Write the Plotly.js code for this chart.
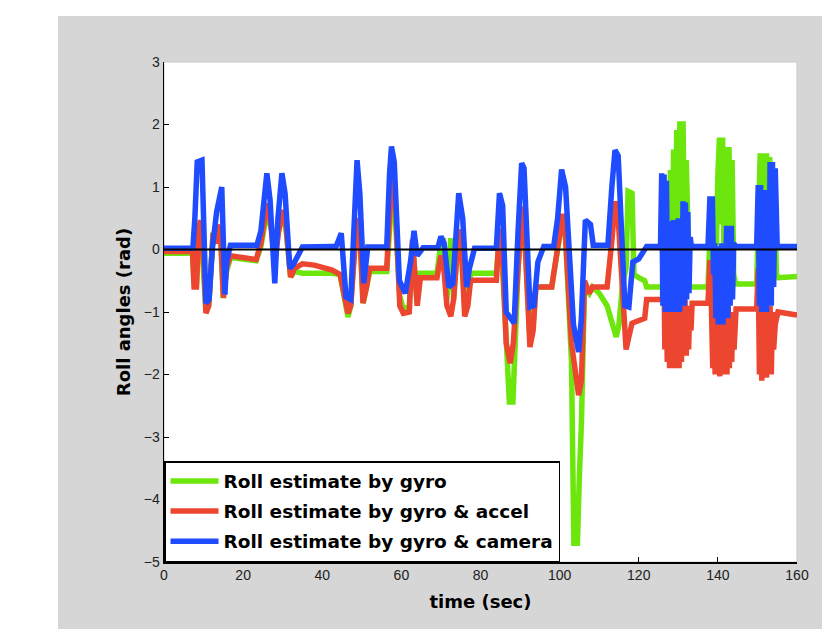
<!DOCTYPE html>
<html>
<head>
<meta charset="utf-8">
<script src="https://cdn.plot.ly/plotly-3.0.1.min.js"></script>
<style>
  html, body { margin: 0; padding: 0; background: #ffffff; width: 822px; height: 629px; overflow: hidden; }
  #chart { position: absolute; left: 58px; top: 16px; width: 764px; height: 613px; }
</style>
</head>
<body>
<div id="chart"></div>
<script>
// ---- data ----
const seriesNames = ["Roll estimate by gyro", "Roll estimate by gyro & accel", "Roll estimate by gyro & camera"];

const tGyro = [0,7.2,7.6,8.2,8.8,9.2,10.6,11.3,12.4,14.2,15,15.8,16.8,23.3,24.5,26,26.8,28,29,30,30.8,32,33,35,42.5,44.5,46.5,47.2,48.3,48.8,49.5,50.3,51.2,52,56.3,57.2,57.6,58.3,59.6,60.5,62,62.8,63.4,64,64.8,69,70,70.6,71.5,72.5,73.2,74.5,75.2,76,76.8,77.5,84,84.8,85.5,86.5,87.3,88.2,88.8,89.5,90.5,91.2,92.5,93.3,94,98,99.5,100.8,101.5,103,103.6,104.5,105,105.5,106.3,107.5,108.3,110,112,113.5,114.3,115,116,116.8,117.3,118.3,118.8,120,121.5,122,126,
  126.4,126.8,127.2,127.6,128.0,128.4,128.8,129.2,129.6,130.0,130.4,130.8,131.2,131.6,132.0,132.4,132.8,133.5,137.5,
  138.0,138.5,139.0,139.5,140.0,140.4,140.8,141.2,141.6,142.0,142.4,142.8,143.2,143.6,144.0,144.5,149.8,
  150.3,150.7,151.1,151.5,151.9,152.3,152.7,153.1,153.5,153.9,154.3,154.8,155.3,160];
const gyro = [-0.06,-0.06,-0.55,-0.6,0.3,0.45,-0.98,-0.9,0.25,0.35,-0.78,-0.35,-0.13,-0.18,0.05,0.6,0.4,0.2,0.3,0.55,0.35,-0.44,-0.35,-0.38,-0.38,-0.4,-1.08,-0.9,0.2,0.45,0.3,-0.86,-0.6,-0.35,-0.35,0.6,0.85,0.7,-0.75,-0.95,-0.9,0.1,-0.5,-0.85,-0.38,-0.38,0.1,0.18,-0.8,0.18,-0.8,0.3,0,-0.9,-0.7,-0.38,-0.38,0.2,-0.2,-1.5,-2.44,-2.44,-1.2,-0.3,0.6,0.2,-1.45,-1.2,-0.6,-0.6,0,0.5,0.2,-1.8,-4.7,-4.7,-3.6,-2.8,-0.6,-0.7,-0.6,-0.7,-0.9,-1.2,-1.4,-1.2,-0.5,-0.3,0.93,0.9,-0.4,-0.45,-0.5,-0.6,-0.6,
  0.5,-0.5,1.0,-0.6,1.27,-0.5,1.6,-0.4,1.91,0.2,2.05,0.6,2.05,-0.2,1.43,0.5,-0.6,-0.6,-0.6,
  0.2,-0.5,0.5,-0.3,1.2,1.79,0.4,1.79,-0.4,1.64,0.1,1.64,0.3,1.43,-0.4,-0.55,-0.55,
  0.3,1.54,-0.5,1.54,0.2,1.54,0.4,1.48,-0.3,1.2,0.95,-0.4,-0.45,-0.43];

const tAccel = [0,7.2,7.6,8.2,8.8,9.2,9.8,10.6,11.3,12.4,13.3,14.2,15,15.8,16.8,23.3,24.5,26,26.8,28,29,30,30.8,32,33,35,38,42.5,44.5,46.5,47.2,48.3,48.8,49.5,50.3,51.2,52,56.3,57.2,57.6,58.3,59.6,60.5,62,62.8,63.4,64,64.8,69,70,70.6,71.5,72.5,73.2,74.5,75.2,76,76.8,77.5,84,84.8,85.5,86.5,87.5,88.3,89.5,90.5,91.2,92.5,93.3,94,98,99.5,100.8,101.5,103,104.8,105.5,106.3,107.5,108.3,112,113.3,114,114.8,116,116.8,117.5,118.3,121.5,122,126,
  126.3,126.6,126.9,127.2,127.5,127.8,128.1,128.4,128.7,129.0,129.3,129.6,129.9,130.2,130.5,130.8,131.1,131.4,131.7,132.0,132.3,132.6,132.9,133.2,133.5,137.5,
  138.0,138.4,138.7,139.0,139.3,139.6,139.9,140.2,140.5,140.8,141.1,141.4,141.7,142.0,142.3,142.6,142.9,143.2,143.5,143.8,144.1,144.6,149.8,
  150.2,150.5,150.8,151.1,151.4,151.7,152.0,152.3,152.6,152.9,153.2,153.5,153.8,154.1,154.5,155.2,160];
const accel = [-0.03,-0.03,-0.6,-0.6,0.3,0.47,0.2,-1.02,-0.9,0.26,0.1,0.4,-0.77,-0.3,-0.1,-0.16,0.1,0.74,0.5,-0.2,0.3,0.63,0.4,-0.44,-0.3,-0.23,-0.25,-0.33,-0.4,-1.02,-0.9,0.2,0.5,0.3,-0.86,-0.6,-0.3,-0.3,1,1.27,1,-0.9,-1.02,-1,0.16,-0.5,-0.9,-0.45,-0.45,-0.1,-0.2,-0.9,-1.07,-0.8,0.32,0,-1.07,-0.9,-0.49,-0.49,0.33,0,-1.5,-1.82,-1.5,-0.3,0.69,0.2,-1.56,-1.3,-0.6,-0.6,0,0.57,0.2,-1.5,-2.33,-2.1,-0.5,-0.7,-0.6,-0.6,0.2,0.77,0.5,-1,-1.6,-1.4,-1.18,-1.1,-0.8,-0.8,
  0.0,-1.6,-0.3,-1.8,-0.4,-1.9,-0.5,-1.75,-0.6,-1.9,-0.5,-1.7,-0.7,-1.9,-0.6,-1.8,-0.7,-1.6,-0.8,-1.7,-0.9,-1.6,-0.9,-1.3,-0.86,-0.86,
  -0.17,-1.0,-1.9,-0.8,-2.0,-0.9,-1.9,-1.0,-2.03,-0.8,-2.0,-0.9,-1.9,-1.0,-2.0,-0.9,-1.9,-1.1,-1.8,-1.0,-1.6,-0.95,-0.95,
  -0.3,-2.0,-1.0,-2.1,-0.9,-2.0,-1.0,-2.05,-1.1,-1.9,-0.9,-2.0,-1.0,-1.6,-1.2,-1.0,-1.05];

const tCam = [0,7.3,7.8,8.4,9.6,10.1,10.6,11.4,12.2,13.3,14.6,15.4,15.8,16.8,23.5,24.5,26,26.8,28,28.8,29.8,30.6,31.8,32.6,34,35,42.5,43.5,44.8,46,47.2,48.2,48.8,49.5,50.5,51.5,56.3,57,57.5,58.2,59.5,61,62.3,63.2,64,65.5,69.2,70,70.8,72,73,74.5,75.5,76.5,77.2,78.5,84,84.8,85.6,86.5,88.5,89.5,90.4,91,92.5,93.5,94.5,96,98.5,99.5,100.5,101.5,103.5,104.8,105.5,106.5,107.8,108.5,112.2,113.2,114,114.8,115.8,116.5,117.5,118.5,120,122,125.5,
  125.8,126.1,126.4,126.7,127.0,127.3,127.6,127.9,128.2,128.5,128.8,129.1,129.4,129.7,130.0,130.3,130.6,130.9,131.2,131.5,131.8,132.1,132.4,132.7,133.0,133.3,137.5,
  138.0,138.3,138.6,138.9,139.2,139.5,139.8,140.1,140.4,140.7,141.0,141.3,141.6,141.9,142.2,142.5,142.8,143.1,143.4,143.7,144.0,144.5,149.8,
  150.2,150.5,150.8,151.1,151.4,151.7,152.0,152.3,152.6,152.9,153.2,153.5,153.8,154.1,154.5,155.0,160];
const camera = [0.02,0.02,0.5,1.4,1.43,0.4,-0.86,-0.8,0,0.6,1,-0.72,-0.2,0.07,0.07,0.3,1.22,0.8,-0.54,0.5,1.22,0.9,-0.3,-0.25,-0.1,0.04,0.05,0.05,0.26,-0.76,-0.8,0.5,1.43,0.9,-0.54,0.04,0.04,1.2,1.65,1.4,-0.5,-0.7,-0.2,0.3,-0.1,0.03,0.03,0.21,0.1,-0.6,-0.55,0.9,0.5,-0.6,-0.3,0.02,0.02,0.9,0.7,-1,-1.18,0.3,1.38,1.3,-0.92,-0.9,-0.2,0.05,0.05,0.5,1.28,1,-1.2,-1.64,-1.1,0.47,0.4,0.07,0.07,1,1.59,1.5,-0.05,-0.9,-0.92,-0.2,-0.15,0.05,0.05,
  1.22,-0.9,1.2,-1.0,1.1,-0.8,0.3,-1.0,0.45,-0.95,0.47,-1.0,0.4,-0.9,0.5,-1.0,0.47,-0.85,0.77,-0.9,0.75,-0.8,0.6,-0.7,0.2,0.05,0.05,
  0.85,0.6,0.85,-0.4,0.1,-1.1,0.0,-1.2,0.05,-1.1,0.1,-1.2,0.0,-1.0,0.38,-1.1,0.38,-0.9,0.38,-0.8,0.1,0.05,0.05,
  1.03,-0.9,1.03,-1.0,0.9,-0.9,0.95,-1.0,0.9,-0.8,1.4,-0.9,1.4,-0.6,1.3,0.05,0.05];

const zeroLineX = [0, 160];
const zeroLineY = [0, 0];

const xTickVals = [0, 20, 40, 60, 80, 100, 120, 140, 160];
const yTickVals = [-5, -4, -3, -2, -1, 0, 1, 2, 3];

// ---- styling ----
const colGreen = "#6ce60c";
const colRed = "#ec4631";
const colBlue = "#1f4cff";
const lw = 5.5;

const traces = [
  { x: tGyro, y: gyro, name: seriesNames[0], type: "scatter", mode: "lines",
    line: { color: colGreen, width: lw }, legendgroup: "g1" },
  { x: tAccel, y: accel, name: seriesNames[1], type: "scatter", mode: "lines",
    line: { color: colRed, width: lw }, legendgroup: "g2" },
  { x: tCam, y: camera, name: seriesNames[2], type: "scatter", mode: "lines",
    line: { color: colBlue, width: lw }, legendgroup: "g3" },
  { x: zeroLineX, y: zeroLineY, type: "scatter", mode: "lines", showlegend: false,
    hoverinfo: "skip", line: { color: "#000000", width: 2 } }
];

const tickFont = { family: "Liberation Sans Narrow, Liberation Sans, Arial, sans-serif", size: 14, color: "#222222" };
const titleFont = { family: "DejaVu Sans, sans-serif", size: 18, color: "#000000", weight: "bold" };

const layout = {
  width: 764, height: 613,
  margin: { l: 106, r: 25, t: 46, b: 67, pad: 0 },
  paper_bgcolor: "#d6d6d6",
  plot_bgcolor: "#ffffff",
  showlegend: true,
  xaxis: {
    range: [0, 160], tickvals: xTickVals, ticks: "inside", ticklen: 5, tickwidth: 1,
    tickcolor: "#000000", showline: true, linecolor: "#000000", linewidth: 1.5,
    showgrid: false, zeroline: false, tickfont: tickFont,
    title: { text: "time (sec)", font: titleFont, standoff: 13 }
  },
  yaxis: {
    range: [-5, 3], tickvals: yTickVals, ticks: "inside", ticklen: 5, tickwidth: 1,
    tickcolor: "#000000", showline: true, linecolor: "#000000", linewidth: 1.5,
    showgrid: false, zeroline: false, tickfont: tickFont,
    title: { text: "Roll angles (rad)", font: titleFont, standoff: 8 }
  },
  legend: {
    x: 0, y: 0, xanchor: "left", yanchor: "bottom",
    bgcolor: "#ffffff", bordercolor: "#000000", borderwidth: 1.5,
    font: { family: "DejaVu Sans, sans-serif", size: 18.5, color: "#000000", weight: "bold" },
    traceorder: "grouped", tracegroupgap: 3, itemwidth: 48
  },
  shapes: [
    { type: "rect", xref: "paper", yref: "paper", x0: 0, x1: 1, y0: 0, y1: 1,
      line: { color: "#c8c8c8", width: 1 }, fillcolor: "rgba(0,0,0,0)", layer: "below" }
  ]
};

Plotly.newPlot("chart", traces, layout, { displayModeBar: false, staticPlot: true });
</script>
</body>
</html>
